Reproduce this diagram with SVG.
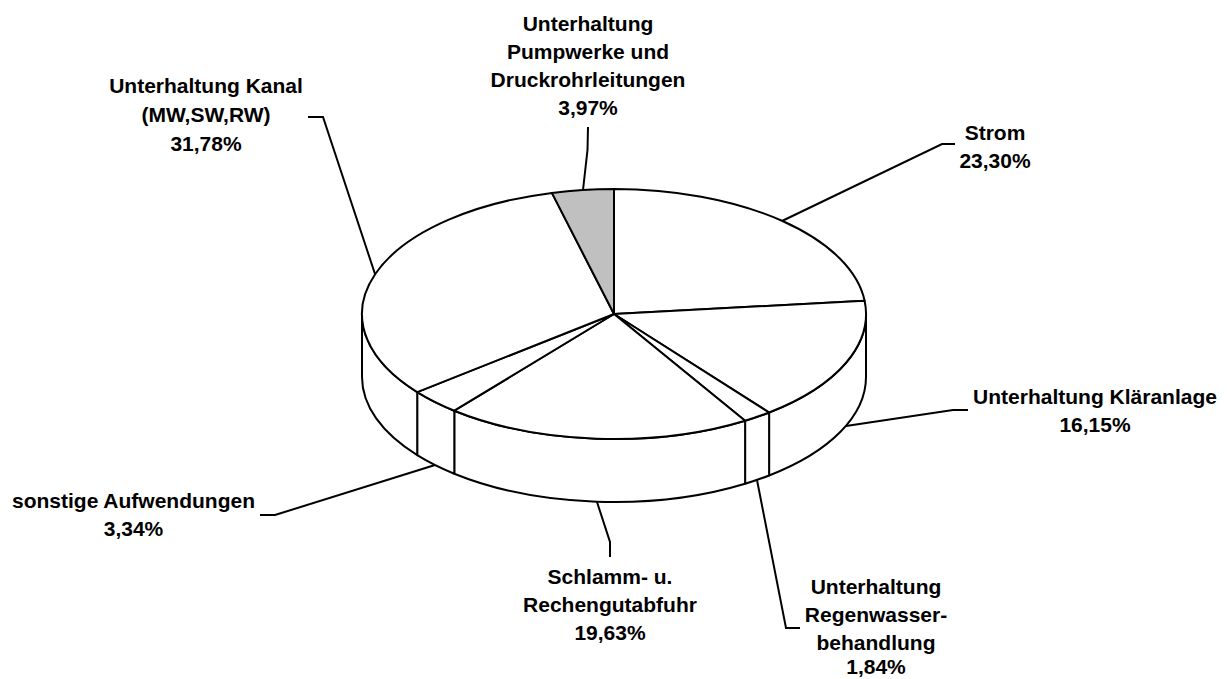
<svg xmlns="http://www.w3.org/2000/svg" width="1227" height="679" viewBox="0 0 1227 679">
<style>
.s{fill:#fff;stroke:#000;stroke-width:2;stroke-linejoin:round}
.g{fill:#c0c0c0;stroke:#000;stroke-width:2;stroke-linejoin:round}
.l{fill:none;stroke:#000;stroke-width:2}
text{font-family:"Liberation Sans",Arial,sans-serif;font-weight:bold;font-size:21px;fill:#000;text-anchor:middle}
</style>
<rect width="1227" height="679" fill="#fff"/>
<g id="sides">
<path class="s" d="M866 314 A252 125 0 0 1 769.1 412.5 L769.1 475.5 A252 125 0 0 0 866 377 Z"/>
<path class="s" d="M769.1 412.5 A252 125 0 0 1 745.1 420.7 L745.1 483.7 A252 125 0 0 0 769.1 475.5 Z"/>
<path class="s" d="M745.1 420.7 A252 125 0 0 1 454.3 410.7 L454.3 473.7 A252 125 0 0 0 745.1 483.7 Z"/>
<path class="s" d="M454.3 410.7 A252 125 0 0 1 417.2 392.1 L417.2 455.1 A252 125 0 0 0 454.3 473.7 Z"/>
<path class="s" d="M417.2 392.1 A252 125 0 0 1 362 314 L362 377 A252 125 0 0 0 417.2 455.1 Z"/>
</g>
<g id="strom"><path class="s" d="M614 314 L614 189 A252 125 0 0 1 864.6 300.7 Z"/></g>
<g id="klaeranlage"><path class="s" d="M614 314 L864.6 300.7 A252 125 0 0 1 769.1 412.5 Z"/></g>
<g id="regenwasser"><path class="s" d="M614 314 L769.1 412.5 A252 125 0 0 1 745.1 420.7 Z"/></g>
<g id="schlamm"><path class="s" d="M614 314 L745.1 420.7 A252 125 0 0 1 454.3 410.7 Z"/></g>
<g id="sonstige"><path class="s" d="M614 314 L454.3 410.7 A252 125 0 0 1 417.2 392.1 Z"/></g>
<g id="kanal"><path class="s" d="M614 314 L417.2 392.1 A252 125 0 0 1 551.9 192.9 Z"/></g>
<g id="pumpwerke"><path class="g" d="M614 314 L551.9 192.9 A252 125 0 0 1 614 189 Z"/></g>
<g id="connectors">
<polyline class="l" points="308,117 323,117 375,274"/>
<polyline class="l" points="588,127 587.5,150 583,190"/>
<polyline class="l" points="955,144 942,144 782,221"/>
<polyline class="l" points="968,410 953,410 846,426"/>
<polyline class="l" points="800,628 786,628 757,480"/>
<polyline class="l" points="610,557 610,542 597,502"/>
<polyline class="l" points="260,515 275,515 435,465"/>
</g>
<g id="labels">
<text x="206" y="93">Unterhaltung Kanal</text>
<text x="206" y="122">(MW,SW,RW)</text>
<text x="206" y="150.5">31,78%</text>
<text x="588" y="31">Unterhaltung</text>
<text x="588" y="59">Pumpwerke und</text>
<text x="588" y="87">Druckrohrleitungen</text>
<text x="588" y="115">3,97%</text>
<text x="995" y="139.5">Strom</text>
<text x="995" y="167.5">23,30%</text>
<text x="1095" y="403.5">Unterhaltung Kläranlage</text>
<text x="1095" y="431.5">16,15%</text>
<text x="133.5" y="508">sonstige Aufwendungen</text>
<text x="133.5" y="536">3,34%</text>
<text x="610" y="584">Schlamm- u.</text>
<text x="610" y="612">Rechengutabfuhr</text>
<text x="610" y="640">19,63%</text>
<text x="876" y="594">Unterhaltung</text>
<text x="876" y="622">Regenwasser-</text>
<text x="876" y="650">behandlung</text>
<text x="876" y="674">1,84%</text>
</g>
</svg>
